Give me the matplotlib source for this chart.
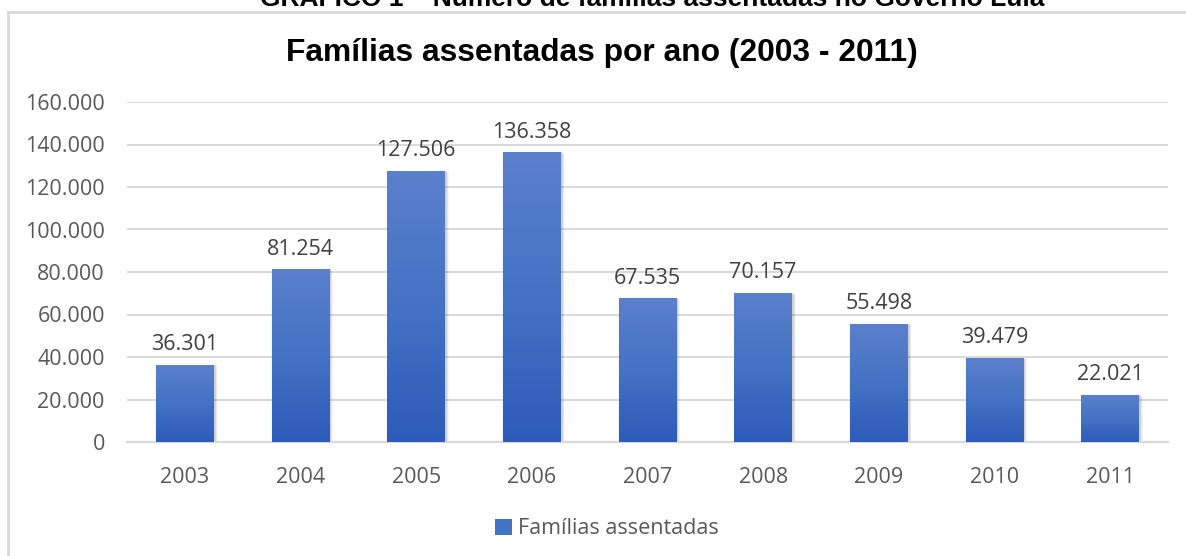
import numpy as np
import matplotlib
matplotlib.use("Agg")
import matplotlib.pyplot as plt
from matplotlib.colors import LinearSegmentedColormap
from matplotlib.patches import Rectangle
from matplotlib.lines import Line2D
from matplotlib.ticker import FuncFormatter

anos = ["2003", "2004", "2005", "2006", "2007", "2008", "2009", "2010", "2011"]
familias = [36301, 81254, 127506, 136358, 67535, 70157, 55498, 39479, 22021]
rotulos = ["36.301", "81.254", "127.506", "136.358", "67.535",
           "70.157", "55.498", "39.479", "22.021"]

titulo_doc = "GRÁFICO 1 – Número de famílias assentadas no Governo Lula"
titulo = "Famílias assentadas por ano (2003 - 2011)"
serie = "Famílias assentadas"

W, H = 1186, 556
fig = plt.figure(figsize=(W / 100, H / 100), dpi=100)
ax = fig.add_axes([127 / W, 1 - 442 / H, (1168 - 127) / W, (442 - 102) / H])

body = "Open Sans"
fs = 15.5
grid_c = "#d9d9d9"
tick_c = "#595959"
label_c = "#404040"

x = np.arange(len(anos))
bw = 0.5
grad = LinearSegmentedColormap.from_list("g", ["#2d5bb9", "#4472c4", "#5b80cc"])
gimg = np.linspace(0, 1, 256).reshape(-1, 1)

for xi, v in zip(x, familias):
    # soft shadow
    for k, a in enumerate([0.09, 0.06, 0.035]):
        d = 0.012 * (k + 1)
        ax.add_patch(Rectangle((xi - bw / 2 + 0.008 - d / 3, -700), bw + d, v + 700 - 300 * k,
                               facecolor="black", alpha=a, edgecolor="none", zorder=2))
    r = Rectangle((xi - bw / 2, 0), bw, v, facecolor="none", edgecolor="none", zorder=3)
    ax.add_patch(r)
    im = ax.imshow(gimg, cmap=grad, aspect="auto", origin="lower",
                   extent=(xi - bw / 2, xi + bw / 2, 0, v), zorder=3)
    im.set_clip_path(r)

ax.set_xlim(-0.5, len(anos) - 0.5)
ax.set_ylim(0, 160000)

for xi, v, t in zip(x, familias, rotulos):
    ax.annotate(t, (xi, v), xytext=(0, 7), textcoords="offset points",
                ha="center", va="bottom", fontsize=fs, color=label_c, family=body)

ax.set_yticks(np.arange(0, 160001, 20000))
ax.yaxis.set_major_formatter(FuncFormatter(lambda v, p: f"{int(v):,}".replace(",", ".")))
ax.set_xticks(x)
ax.set_xticklabels(anos)
ax.tick_params(length=0, labelsize=fs, labelcolor=tick_c)
ax.tick_params(axis="y", pad=16)
ax.tick_params(axis="x", pad=18)
for lab in ax.get_xticklabels() + ax.get_yticklabels():
    lab.set_family(body)

ax.grid(axis="y", color=grid_c, linewidth=1.4, zorder=0)
ax.set_axisbelow(True)
for s in ["top", "right", "left"]:
    ax.spines[s].set_visible(False)
ax.spines["bottom"].set_color(grid_c)
ax.spines["bottom"].set_linewidth(1.6)

fig.text(602 / W, 1 - 53 / H, titulo, ha="center", va="center",
         fontsize=22.9, fontweight="bold", family="Liberation Sans", color="black")
fig.text(652 / W, 1 - 6 / H, titulo_doc, ha="center", va="baseline",
         fontsize=19, fontweight="bold", family="Liberation Sans", color="black")

# chart frame (left and top edges visible)
fig.add_artist(Line2D([8 / W, 8 / W], [0, 1 - 12 / H], transform=fig.transFigure,
                      color=grid_c, linewidth=2))
fig.add_artist(Line2D([8 / W, 1], [1 - 12 / H, 1 - 12 / H], transform=fig.transFigure,
                      color=grid_c, linewidth=2))

handle = Rectangle((0, 0), 1, 1, facecolor="#4472c4", edgecolor="none")
fig.legend([handle], [serie], loc="center", bbox_to_anchor=(607 / W, 1 - 529 / H),
           frameon=False, handlelength=0.8, handleheight=0.8, handletextpad=0.3,
           prop={"family": body, "size": fs}, labelcolor=tick_c)

fig.savefig("out.png", dpi=100)
